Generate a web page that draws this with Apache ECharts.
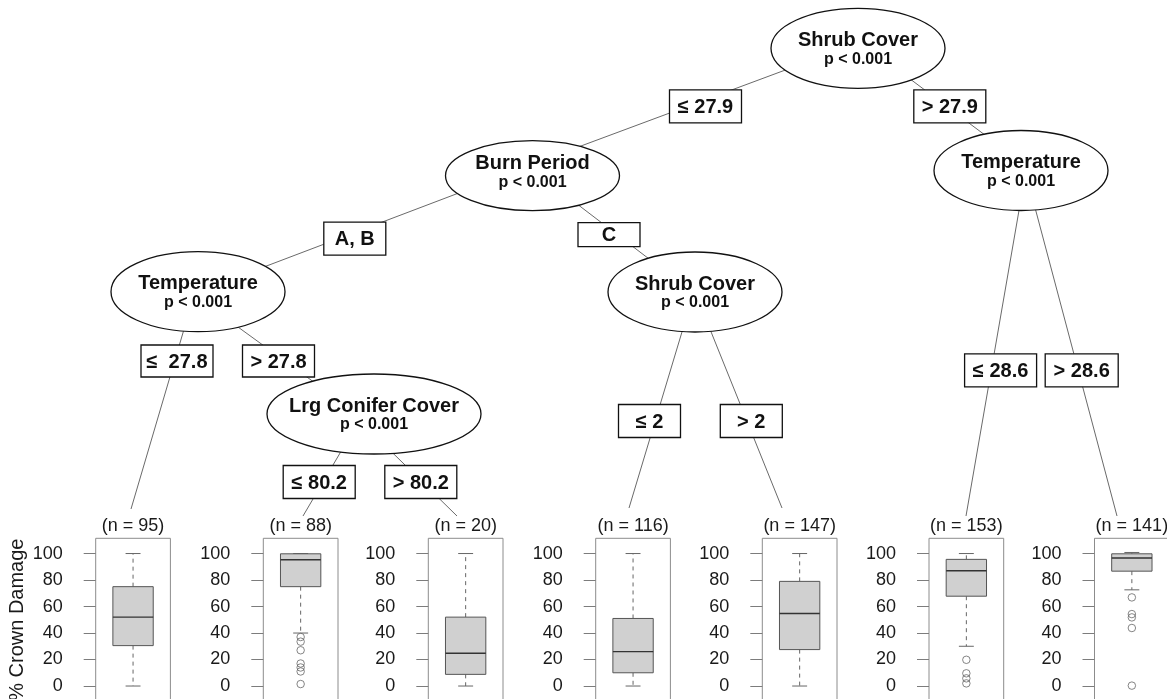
<!DOCTYPE html>
<html>
<head>
<meta charset="utf-8">
<script src="https://cdn.jsdelivr.net/npm/echarts@6/dist/echarts.min.js"></script>
<style>
html,body{margin:0;padding:0;background:#fff;}
#chart{width:1167px;height:699px;}
</style>
</head>
<body>
<div id="chart"></div>
<script>
// ---------- DATA ----------
const categories = ['(n = 95)', '(n = 88)', '(n = 20)', '(n = 116)', '(n = 147)', '(n = 153)', '(n = 141)'];
const boxMin    = [0,    40,   0,    0,    0,    30,   72.6];
const boxQ1     = [30.5, 75,   8.8,  10,   27.5, 67.8, 86.7];
const boxMedian = [52,   95.3, 24.7, 26,   54.7, 87,   96.6];
const boxQ3     = [75,   99.8, 52,   51,   79,   95.6, 99.8];
const boxMax    = [100,  100,  100,  100,  100,  100,  100.8];
const outliers  = [
  [],
  [37, 33.5, 27, 17, 14, 11, 1.5],
  [],
  [],
  [],
  [19.8, 9.6, 5.8, 2],
  [66.9, 54.3, 51.8, 43.8, 0.3]
];
const tickValues = [0, 20, 40, 60, 80, 100];
const yAxisTitle = '% Crown Damage';

const nodeTitles = ['Shrub Cover', 'Temperature', 'Burn Period', 'Temperature', 'Shrub Cover', 'Lrg Conifer Cover'];
const nodePValues = ['p < 0.001', 'p < 0.001', 'p < 0.001', 'p < 0.001', 'p < 0.001', 'p < 0.001'];
const edgeLabels = ['≤ 27.9', '> 27.9', 'A, B', 'C', '≤  27.8', '> 27.8', '≤ 80.2', '> 80.2', '≤ 2', '> 2', '≤ 28.6', '> 28.6'];

// ---------- LAYOUT (pixel positions of the tree drawing) ----------
const W = 1167, H = 699;
const FONT = '"Liberation Sans", Arial, Helvetica, sans-serif';
const PANEL_LEFT = [95.7, 263.3, 428.3, 595.7, 762.3, 929, 1094.5];
const PANEL_W = 74.7, PANEL_TOP = 538.3, PANEL_H = 162.7;
const Y_MIN = -11.3, Y_MAX = 111.5;
// node ellipses: cx, cy, rx, ry, text offset
const NODE_LAYOUT = [
  [858, 48.3, 87, 40, 0],
  [1021, 170.5, 87, 40, 0],
  [532.5, 175.7, 87, 35, -4.5],
  [198, 291.7, 87, 40, 0],
  [695, 292, 87, 40, 0],
  [374, 414, 107, 40, 0]
];
// edge label boxes: cx, cy, w, h
const LABEL_LAYOUT = [
  [705.5, 106.3, 72, 33],
  [949.8, 106.3, 72, 33],
  [354.8, 238.7, 62, 33],
  [609, 234.7, 62, 24],
  [177, 361, 72, 32],
  [278.5, 361, 72, 32],
  [319.2, 482, 72, 33],
  [420.8, 482, 72, 33],
  [649.5, 421, 62, 33],
  [751.3, 421, 62, 33],
  [1000.6, 370.3, 72, 33],
  [1081.7, 370.3, 73, 33]
];
// edges: x1, y1, x2, y2
const EDGE_LAYOUT = [
  [858, 43, 532.5, 164],
  [858, 40, 1021, 162],
  [532.5, 165, 198, 292],
  [532.5, 170, 695, 294],
  [195, 292, 131, 509],
  [198, 298, 373, 425],
  [363, 414, 303, 516],
  [353, 414, 457, 516],
  [694, 292, 629, 508],
  [695, 292, 782, 508],
  [1026, 170, 966, 516],
  [1025, 170, 1117, 516]
];

// ---------- BUILD ----------
const grids = [], xAxes = [], yAxes = [], series = [];
for (let i = 0; i < categories.length; i++) {
  grids.push({
    left: PANEL_LEFT[i], top: PANEL_TOP, width: PANEL_W, height: PANEL_H,
    containLabel: false, outerBoundsMode: 'none',
    show: true, borderColor: '#8c8c8c', borderWidth: 1, backgroundColor: 'transparent'
  });
  xAxes.push({
    gridIndex: i, type: 'category', data: [categories[i]], position: 'top',
    axisLine: {show: false}, axisTick: {show: false}, splitLine: {show: false},
    axisLabel: {interval: 0, margin: 3, fontSize: 18, color: '#1a1a1a', fontFamily: FONT}
  });
  const ya = {
    gridIndex: i, type: 'value', min: Y_MIN, max: Y_MAX,
    axisLine: {show: false}, splitLine: {show: false},
    axisTick: {show: true, length: 12, customValues: tickValues, lineStyle: {color: '#7c7c7c', width: 1}},
    axisLabel: {customValues: tickValues, margin: 33, fontSize: 18, color: '#1a1a1a', fontFamily: FONT}
  };
  if (i === 0) {
    ya.name = yAxisTitle;
    ya.nameLocation = 'middle';
    ya.nameRotate = 90;
    ya.nameGap = 68;
    ya.nameTextStyle = {fontSize: 20, color: '#1a1a1a', fontFamily: FONT};
  }
  yAxes.push(ya);

  series.push({
    type: 'custom', xAxisIndex: i, yAxisIndex: i, z: 3,
    data: [[0, boxMin[i], boxQ1[i], boxMedian[i], boxQ3[i], boxMax[i]]],
    renderItem: function (params, api) {
      const x = api.value(0);
      const cx = api.coord([x, 0])[0];
      const band = api.size([1, 0])[0];
      const hw = band * 0.27, cw = band * 0.1;
      const yMin = api.coord([x, api.value(1)])[1];
      const yQ1 = api.coord([x, api.value(2)])[1];
      const yMed = api.coord([x, api.value(3)])[1];
      const yQ3 = api.coord([x, api.value(4)])[1];
      const yMax = api.coord([x, api.value(5)])[1];
      const wStyle = {stroke: '#666', lineWidth: 1, lineDash: [4, 4]};
      const sStyle = {stroke: '#666', lineWidth: 1};
      return {
        type: 'group',
        children: [
          {type: 'line', shape: {x1: cx, y1: yQ1, x2: cx, y2: yMin}, style: wStyle},
          {type: 'line', shape: {x1: cx, y1: yQ3, x2: cx, y2: yMax}, style: wStyle},
          {type: 'line', shape: {x1: cx - cw, y1: yMin, x2: cx + cw, y2: yMin}, style: sStyle},
          {type: 'line', shape: {x1: cx - cw, y1: yMax, x2: cx + cw, y2: yMax}, style: sStyle},
          {type: 'rect', shape: {x: cx - hw, y: yQ3, width: 2 * hw, height: yQ1 - yQ3},
           style: {fill: '#d0d0d0', stroke: '#555', lineWidth: 1}},
          {type: 'line', shape: {x1: cx - hw, y1: yMed, x2: cx + hw, y2: yMed},
           style: {stroke: '#333', lineWidth: 1.4}}
        ]
      };
    }
  });
  if (outliers[i].length) {
    series.push({
      type: 'scatter', xAxisIndex: i, yAxisIndex: i, z: 4,
      symbol: 'circle', symbolSize: 7.5,
      itemStyle: {color: 'transparent', borderColor: '#666', borderWidth: 1},
      data: outliers[i].map(v => [0, v])
    });
  }
}

// full-canvas grid for the tree
const T = categories.length;
grids.push({left: 0, top: 0, width: W, height: H, containLabel: false, outerBoundsMode: 'none'});
xAxes.push({gridIndex: T, type: 'value', min: 0, max: W, show: false});
yAxes.push({gridIndex: T, type: 'value', min: 0, max: H, inverse: true, show: false});

series.push({
  type: 'custom', xAxisIndex: T, yAxisIndex: T, z: 1,
  data: EDGE_LAYOUT,
  renderItem: function (params, api) {
    const p1 = api.coord([api.value(0), api.value(1)]);
    const p2 = api.coord([api.value(2), api.value(3)]);
    return {type: 'line', shape: {x1: p1[0], y1: p1[1], x2: p2[0], y2: p2[1]},
            style: {stroke: '#6a6a6a', lineWidth: 1}};
  }
});

series.push({
  type: 'custom', xAxisIndex: T, yAxisIndex: T, z: 2,
  data: NODE_LAYOUT.map((d, k) => d.concat([k])),
  renderItem: function (params, api) {
    const c = api.coord([api.value(0), api.value(1)]);
    const s = api.size([api.value(2), api.value(3)]);
    const k = api.value(5);
    const dy = api.value(4);
    return {
      type: 'group',
      children: [
        {type: 'ellipse', shape: {cx: c[0], cy: c[1], rx: s[0], ry: s[1]},
         style: {fill: '#fff', stroke: '#111', lineWidth: 1.3}},
        {type: 'text', style: {text: nodeTitles[k], x: c[0], y: c[1] - 8 + dy, align: 'center', verticalAlign: 'middle',
          fontSize: 20, fontWeight: 'bold', fontFamily: FONT, fill: '#111'}},
        {type: 'text', style: {text: nodePValues[k], x: c[0], y: c[1] + 11 + dy, align: 'center', verticalAlign: 'middle',
          fontSize: 16, fontWeight: 'bold', fontFamily: FONT, fill: '#111'}}
      ]
    };
  }
});

series.push({
  type: 'custom', xAxisIndex: T, yAxisIndex: T, z: 3,
  data: LABEL_LAYOUT.map((d, k) => d.concat([k])),
  renderItem: function (params, api) {
    const c = api.coord([api.value(0), api.value(1)]);
    const s = api.size([api.value(2), api.value(3)]);
    const k = api.value(4);
    return {
      type: 'group',
      children: [
        {type: 'rect', shape: {x: c[0] - s[0] / 2, y: c[1] - s[1] / 2, width: s[0], height: s[1]},
         style: {fill: '#fff', stroke: '#111', lineWidth: 1.3}},
        {type: 'text', style: {text: edgeLabels[k], x: c[0], y: c[1] + 1, align: 'center', verticalAlign: 'middle',
          fontSize: 20, fontWeight: 'bold', fontFamily: FONT, fill: '#111'}}
      ]
    };
  }
});

const chart = echarts.init(document.getElementById('chart'), null, {renderer: 'canvas'});
chart.setOption({
  animation: false,
  backgroundColor: '#fff',
  grid: grids,
  xAxis: xAxes,
  yAxis: yAxes,
  series: series
});
</script>
</body>
</html>
